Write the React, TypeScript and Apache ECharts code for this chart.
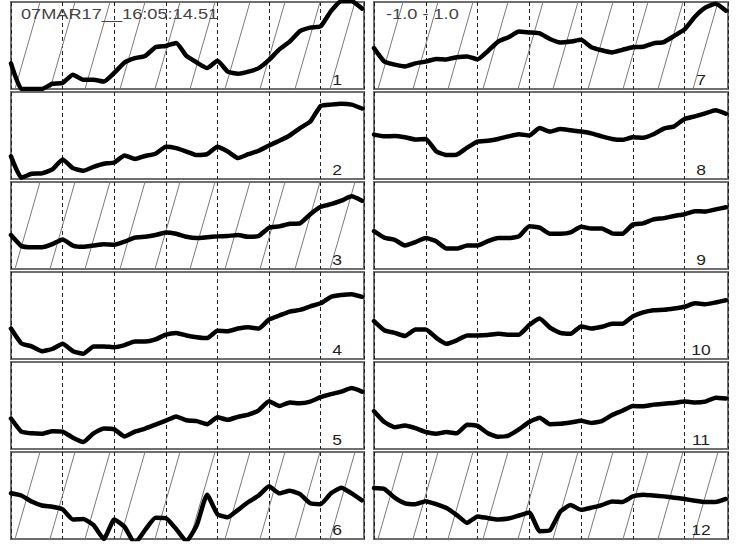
import React, { useEffect, useRef } from "react";
import * as echarts from "echarts";

// ---- data ----
const stampText = "07MAR17__16:05:14.51";
const rangeText = "-1.0 - 1.0";
const panelLabels = ["1", "2", "3", "4", "5", "6", "7", "8", "9", "10", "11", "12"];
const hatchedPanels = [1, 3, 6, 7, 12];
const xStep = 0.2; // sample spacing in time units (dashed lines every 1 unit)
const xMax = 6.84;
const yMin = -1;
const yMax = 1;

const trace1 = [-0.41, -1, -1, -1, -0.88, -0.86, -0.67, -0.79, -0.79, -0.83, -0.63, -0.39, -0.29, -0.24, -0.04, -0.01, 0.06, -0.24, -0.39, -0.52, -0.35, -0.6, -0.65, -0.6, -0.52, -0.33, -0.09, 0.09, 0.33, 0.41, 0.44, 0.79, 1.02, 1.02, 0.85];
const trace2 = [-0.48, -0.97, -0.88, -0.87, -0.78, -0.55, -0.75, -0.81, -0.72, -0.65, -0.62, -0.46, -0.54, -0.47, -0.42, -0.26, -0.29, -0.37, -0.45, -0.43, -0.26, -0.37, -0.52, -0.43, -0.35, -0.23, -0.12, 0, 0.17, 0.32, 0.68, 0.71, 0.73, 0.71, 0.62];
const trace3 = [-0.22, -0.47, -0.5, -0.5, -0.43, -0.32, -0.46, -0.49, -0.46, -0.43, -0.44, -0.37, -0.28, -0.26, -0.22, -0.16, -0.19, -0.26, -0.29, -0.27, -0.25, -0.24, -0.22, -0.26, -0.24, -0.05, -0.02, 0.04, 0.05, 0.26, 0.43, 0.49, 0.57, 0.67, 0.57];
const trace4 = [-0.3, -0.64, -0.71, -0.82, -0.77, -0.65, -0.82, -0.88, -0.71, -0.71, -0.73, -0.68, -0.6, -0.6, -0.55, -0.44, -0.4, -0.46, -0.5, -0.52, -0.35, -0.36, -0.3, -0.27, -0.3, -0.09, 0, 0.09, 0.13, 0.21, 0.28, 0.43, 0.47, 0.49, 0.43];
const trace5 = [-0.3, -0.6, -0.64, -0.65, -0.59, -0.6, -0.74, -0.84, -0.64, -0.53, -0.55, -0.71, -0.6, -0.53, -0.44, -0.35, -0.25, -0.34, -0.36, -0.43, -0.27, -0.33, -0.26, -0.21, -0.11, 0.1, -0.01, 0.07, 0.05, 0.09, 0.19, 0.26, 0.32, 0.4, 0.32];
const trace6 = [0.05, 0, -0.14, -0.23, -0.26, -0.32, -0.55, -0.54, -0.68, -1.0, -0.55, -0.72, -1.1, -0.79, -0.51, -0.52, -0.77, -1.05, -0.68, 0.02, -0.43, -0.5, -0.33, -0.15, 0, 0.21, 0.05, 0.11, 0.03, -0.18, -0.2, 0.05, 0.18, 0.05, -0.11];
const trace7 = [-0.06, -0.37, -0.44, -0.48, -0.41, -0.37, -0.31, -0.32, -0.27, -0.25, -0.32, -0.13, 0.09, 0.19, 0.32, 0.3, 0.28, 0.15, 0.07, 0.09, 0.13, -0.04, -0.11, -0.16, -0.1, -0.04, -0.03, 0.05, 0.08, 0.22, 0.37, 0.66, 0.87, 0.96, 0.8];
const trace8 = [0.02, -0.02, -0.01, -0.04, -0.09, -0.08, -0.36, -0.45, -0.44, -0.28, -0.14, -0.12, -0.08, -0.02, 0.03, 0, 0.17, 0.09, 0.15, 0.12, 0.09, 0.05, -0.02, -0.08, -0.1, -0.04, -0.05, 0.03, 0.16, 0.21, 0.38, 0.44, 0.51, 0.58, 0.5];
const trace9 = [-0.13, -0.28, -0.33, -0.46, -0.38, -0.29, -0.36, -0.53, -0.53, -0.46, -0.46, -0.36, -0.29, -0.29, -0.25, -0.02, -0.05, -0.19, -0.19, -0.16, -0.03, -0.07, -0.07, -0.18, -0.19, 0.02, 0.05, 0.14, 0.17, 0.22, 0.26, 0.33, 0.32, 0.37, 0.42];
const trace10 = [-0.13, -0.34, -0.4, -0.47, -0.32, -0.32, -0.51, -0.65, -0.57, -0.46, -0.46, -0.45, -0.42, -0.44, -0.44, -0.22, -0.07, -0.28, -0.4, -0.42, -0.25, -0.3, -0.26, -0.19, -0.19, -0.02, 0.07, 0.12, 0.13, 0.16, 0.2, 0.28, 0.26, 0.3, 0.35];
const trace11 = [-0.13, -0.38, -0.5, -0.46, -0.52, -0.61, -0.65, -0.61, -0.64, -0.44, -0.47, -0.64, -0.72, -0.69, -0.55, -0.38, -0.28, -0.43, -0.42, -0.39, -0.35, -0.4, -0.36, -0.22, -0.12, -0.01, -0.02, 0.02, 0.04, 0.06, 0.09, 0.07, 0.09, 0.18, 0.16];
const trace12 = [0.17, 0.15, -0.05, -0.18, -0.2, -0.13, -0.2, -0.29, -0.45, -0.63, -0.48, -0.52, -0.55, -0.53, -0.46, -0.39, -0.82, -0.8, -0.37, -0.22, -0.33, -0.28, -0.22, -0.14, -0.15, -0.02, 0.02, 0, -0.02, -0.05, -0.08, -0.12, -0.15, -0.15, -0.08];

const traces = [trace1, trace2, trace3, trace4, trace5, trace6, trace7, trace8, trace9, trace10, trace11, trace12];

// ---- layout ----
const colLeft = [11, 374];
const colWidth = [353, 354];
const rowTop = [2, 92, 182, 272, 362, 452];
const panelHeight = 87;

const hatchSpacing = 35;
const hatchRise = 25;
const hatchPhase = 4;

function renderHatch(params: any) {
  const cs = params.coordSys;
  const left = cs.x;
  const right = cs.x + cs.width;
  const top = cs.y;
  const bottom = cs.y + cs.height;
  const h = bottom - top;
  const children: any[] = [];
  for (let xb = left + hatchPhase - hatchSpacing * 3; xb < right; xb += hatchSpacing) {
    let x1 = xb, y1 = bottom, x2 = xb + hatchRise, y2 = top;
    if (x2 <= left || x1 >= right) continue;
    if (x1 < left) {
      const t = (left - xb) / hatchRise;
      x1 = left;
      y1 = bottom - t * h;
    }
    if (x2 > right) {
      const t = (right - xb) / hatchRise;
      x2 = right;
      y2 = bottom - t * h;
    }
    children.push({
      type: "line",
      shape: { x1, y1, x2, y2 },
      style: { stroke: "#7a7a7a", lineWidth: 1 },
    });
  }
  return { type: "group", children };
}

export default function App() {
  const ref = useRef<HTMLDivElement>(null);
  useEffect(() => {
    if (!ref.current) return;
    const chart = echarts.init(ref.current, undefined, { renderer: "svg" });
    const grid: any[] = [];
    const xAxis: any[] = [];
    const yAxis: any[] = [];
    const series: any[] = [];
    const graphic: any[] = [];
    const font = "Liberation Sans, Arial, sans-serif";

    traces.forEach((vals, i) => {
      const col = i < 6 ? 0 : 1;
      const row = i % 6;
      const left = colLeft[col];
      const width = colWidth[col];
      const top = rowTop[row];
      grid.push({
        left,
        top,
        width,
        height: panelHeight,
        show: true,
        borderColor: "#6e6e6e",
        borderWidth: 2,
        backgroundColor: "#fff",
      });
      xAxis.push({
        type: "value",
        gridIndex: i,
        min: 0,
        max: xMax,
        interval: 1,
        axisLine: { show: false },
        axisTick: { show: false },
        axisLabel: { show: false },
        splitLine: { show: true, lineStyle: { color: "#222", width: 1, type: [4, 3] } },
      });
      yAxis.push({
        type: "value",
        gridIndex: i,
        min: yMin,
        max: yMax,
        axisLine: { show: false },
        axisTick: { show: false },
        axisLabel: { show: false },
        splitLine: { show: false },
      });
      if (hatchedPanels.includes(i + 1)) {
        series.push({
          type: "custom",
          xAxisIndex: i,
          yAxisIndex: i,
          silent: true,
          z: 1,
          data: [[0, 0]],
          renderItem: renderHatch,
        });
      }
      series.push({
        type: "line",
        xAxisIndex: i,
        yAxisIndex: i,
        z: 3,
        showSymbol: false,
        symbol: "none",
        silent: true,
        smooth: 0.15,
        data: vals.map((v, k) => [k * xStep, v]),
        lineStyle: { color: "#000", width: 4.5, cap: "round", join: "round" },
      });
      graphic.push({
        type: "text",
        x: left + width - 27,
        y: top + panelHeight - 9,
        scaleX: 1.25,
        z: 10,
        style: {
          text: panelLabels[i],
          font: `14px ${font}`,
          fill: "#222",
          align: "center",
          verticalAlign: "middle",
        },
      });
    });

    graphic.push({
      type: "text",
      x: 21,
      y: 14,
      scaleX: 1.3,
      z: 10,
      style: { text: stampText, font: `14px ${font}`, fill: "#444", align: "left", verticalAlign: "middle" },
    });
    graphic.push({
      type: "text",
      x: 386,
      y: 14,
      scaleX: 1.3,
      z: 10,
      style: { text: rangeText, font: `14px ${font}`, fill: "#444", align: "left", verticalAlign: "middle" },
    });

    chart.setOption({
      animation: false,
      backgroundColor: "#fff",
      grid,
      xAxis,
      yAxis,
      series,
      graphic,
    });
    return () => chart.dispose();
  }, []);
  return (
    <div
      ref={ref}
      style={{ position: "absolute", left: 0, top: 0, width: 736, height: 552, background: "#fff" }}
    />
  );
}
